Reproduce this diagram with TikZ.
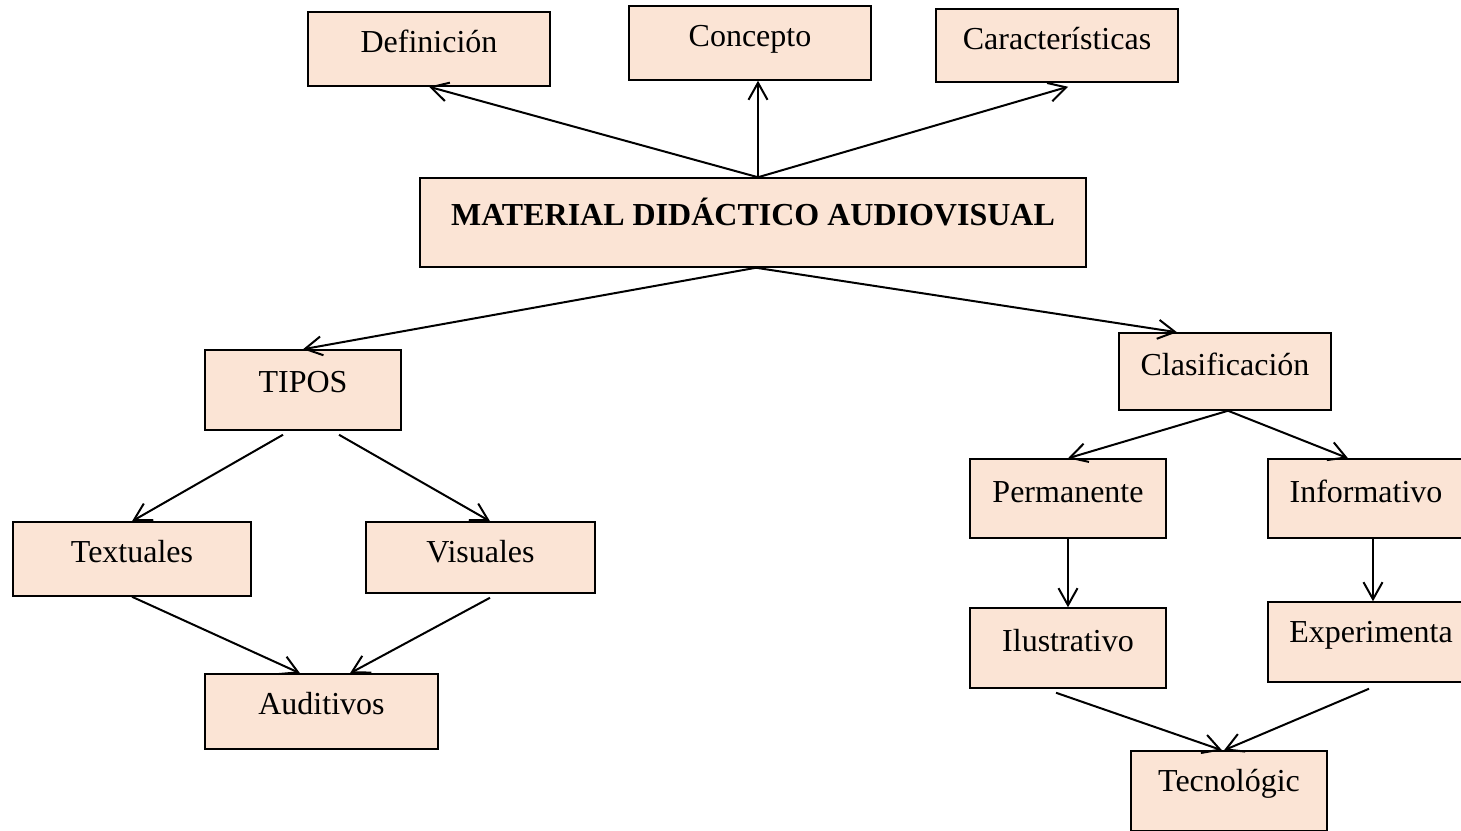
\documentclass[tikz,border=0pt]{standalone}
\usepackage{fontspec}
\setmainfont{Liberation Serif}
\usepackage{xcolor}
\usepackage{tikz}
\usetikzlibrary{arrows.meta}

\definecolor{peach}{HTML}{FBE4D5}

\begin{document}
\begin{tikzpicture}[
    x=0.5pt, y=-0.5pt,
    box/.style={rectangle, draw, line width=0.75pt, fill=peach, inner sep=0pt, align=center,
        font=\fontsize{16pt}{19pt}\selectfont, text height=20.25pt, text depth=16.75pt, minimum width=98pt},
    arrow/.style={-{Straight Barb[length=8.5pt, width=9.5pt]}, line width=1pt}
    ]
\clip (0,0) rectangle (1461,830);
\fill[white] (0,0) rectangle (1461,830);

\node[box, minimum width=121pt] (def) at (429,49) {Definición};
\node[box, minimum width=121pt] (conc) at (750,43) {Concepto};
\node[box, minimum width=121pt, text depth=16.25pt] (car) at (1057,45.5) {Características};
\node[box, minimum width=333pt, text height=23.75pt, text depth=20.75pt] (mat) at (753,222.5) {\textbf{MATERIAL DIDÁCTICO AUDIOVISUAL}};

\node[box, text height=21.25pt, text depth=18.75pt] (tipos) at (303,390) {TIPOS};
\node[box, minimum width=119pt] (text) at (132,559) {Textuales};
\node[box, minimum width=114.5pt, text depth=15.25pt] (vis) at (480.5,557.5) {Visuales};
\node[box, minimum width=116.5pt, text depth=17.25pt] (aud) at (321.5,711.5) {Auditivos};

\node[box, minimum width=106pt, text height=21.25pt, text depth=17.25pt] (clas) at (1225,371.5) {Clasificación};
\node[box, text height=21.75pt, text depth=17.75pt] (perm) at (1068,498.5) {Permanente};
\node[box, text height=21.75pt, text depth=17.75pt] (inf) at (1366,498.5) {Informativo};
\node[box, text height=21.75pt, text depth=18.25pt] (ilu) at (1068,648) {Ilustrativo};
\node[box, minimum width=103pt, text depth=19.75pt] (exp) at (1371,642) {Experimenta};
\node[box, text depth=19.75pt] (tec) at (1229,791) {Tecnológic};

\draw[arrow] ([xshift=2.5pt]mat.north) -- (def.south);
\draw[arrow] ([xshift=2.5pt]mat.north) -- ([xshift=4pt]conc.south);
\draw[arrow] ([xshift=2.5pt]mat.north) -- ([xshift=5.5pt,yshift=-2pt]car.south);
\draw[arrow] ([xshift=1.5pt]mat.south) -- (tipos.north);
\draw[arrow] ([xshift=1.5pt]mat.south) -- ([xshift=-24pt]clas.north);

\draw[arrow] ([xshift=-10pt,yshift=-2pt]tipos.south) -- (text.north);
\draw[arrow] ([xshift=18pt,yshift=-2pt]tipos.south) -- ([xshift=4.75pt]vis.north);
\draw[arrow] (text.south) -- ([xshift=-10.75pt]aud.north);
\draw[arrow] ([xshift=4.75pt,yshift=-2pt]vis.south) -- ([xshift=14.25pt]aud.north);

\draw[arrow] ([xshift=1.5pt]clas.south) -- (perm.north);
\draw[arrow] ([xshift=1.5pt]clas.south) -- ([xshift=-9pt]inf.north);
\draw[arrow] (perm.south) -- (ilu.north);
\draw[arrow] ([xshift=3.5pt]inf.south) -- ([xshift=1pt]exp.north);
\draw[arrow] ([xshift=-6pt,yshift=-2pt]ilu.south) -- ([xshift=-3.5pt]tec.north);
\draw[arrow] ([xshift=-1pt,yshift=-3pt]exp.south) -- ([xshift=-2.5pt]tec.north);
\end{tikzpicture}
\end{document}
